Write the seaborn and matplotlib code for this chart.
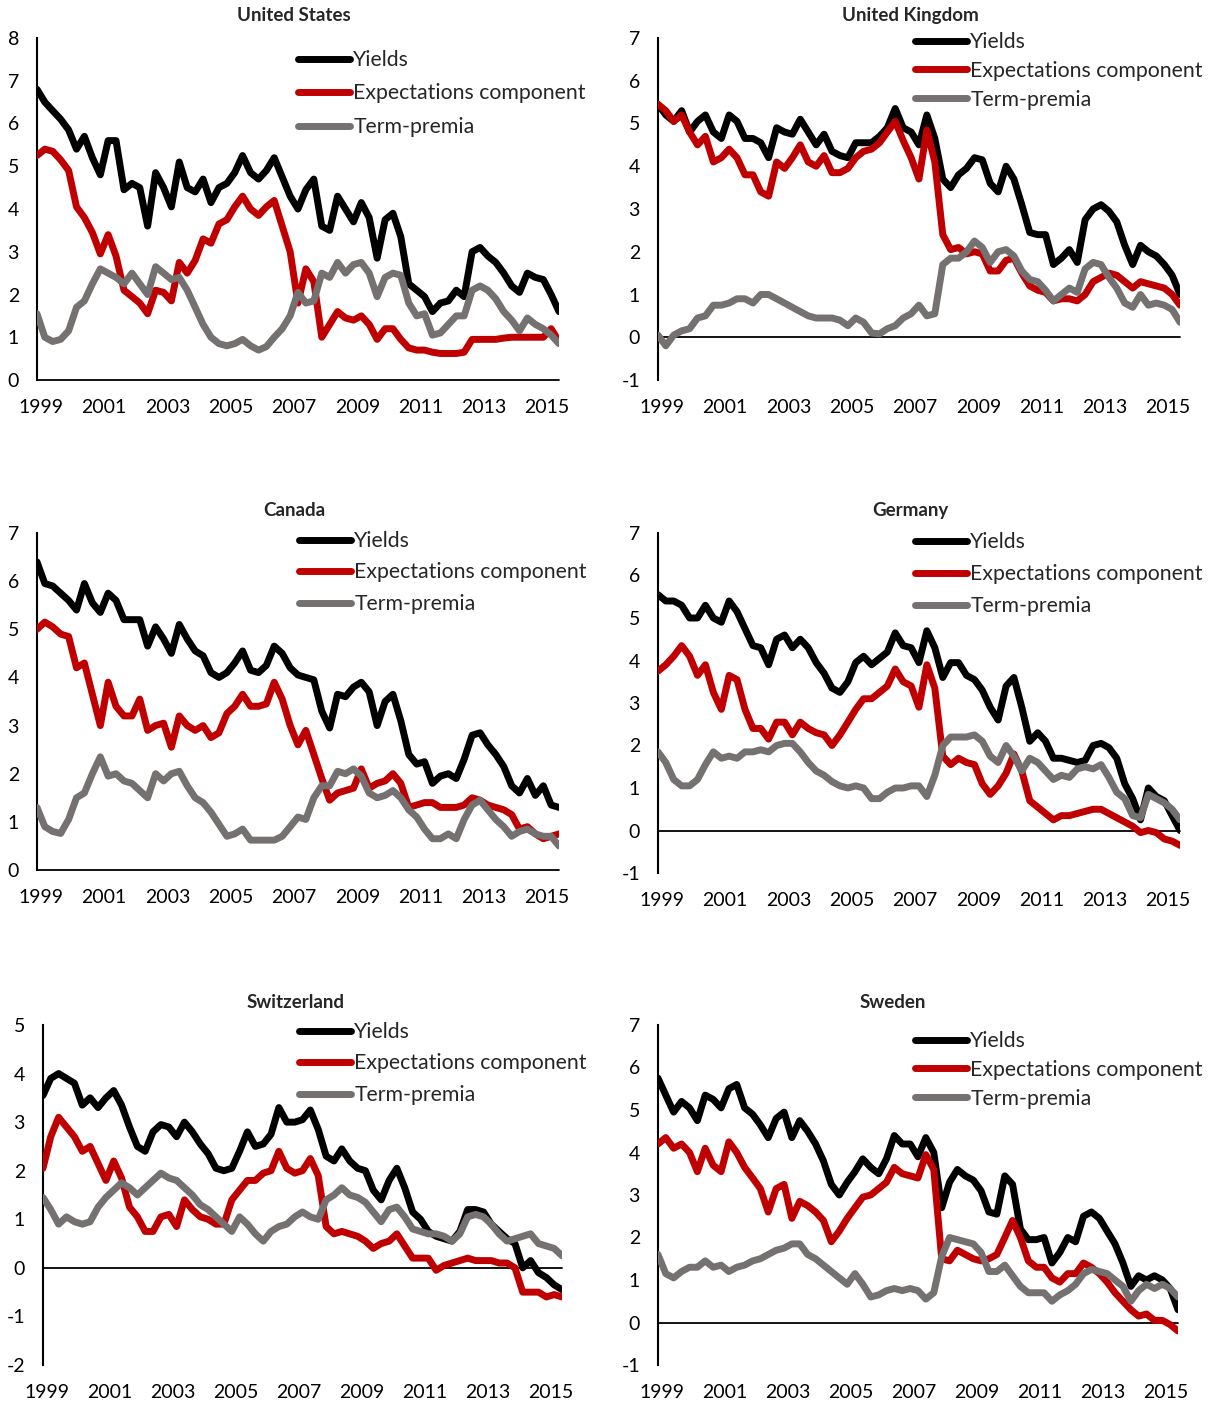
import matplotlib
matplotlib.use("Agg")
import matplotlib.pyplot as plt
import seaborn as sns
import pandas as pd

sns.set_style("white")
plt.rcParams['font.family'] = ['Lato', 'DejaVu Sans']
plt.rcParams['axes.unicode_minus'] = False

# Quarterly observations, 1999Q1 .. 2015Q3
dates = pd.date_range('1999-01-01', '2015-07-01', freq='QS')

# ---- United States ----
us_yields = [6.8, 6.5, 6.3, 6.1, 5.85, 5.4, 5.7, 5.2, 4.8, 5.6, 5.6, 4.45,
             4.6, 4.5, 3.6, 4.85, 4.5, 4.05, 5.1, 4.5, 4.4, 4.7, 4.15, 4.5,
             4.6, 4.85, 5.25, 4.85, 4.7, 4.9, 5.2, 4.75, 4.3, 4.0, 4.45, 4.7,
             3.6, 3.5, 4.3, 4.0, 3.7, 4.15, 3.8, 2.85, 3.75, 3.9, 3.35, 2.25,
             2.1, 1.95, 1.6, 1.8, 1.85, 2.1, 1.95, 3.0, 3.1, 2.9, 2.75, 2.5,
             2.2, 2.05, 2.5, 2.4, 2.35, 2.0, 1.6]
us_expect = [5.25, 5.4, 5.35, 5.15, 4.9, 4.05, 3.8, 3.45, 2.95, 3.4, 2.9, 2.1,
             1.95, 1.8, 1.55, 2.1, 2.05, 1.85, 2.75, 2.5, 2.8, 3.3, 3.2, 3.65,
             3.75, 4.05, 4.3, 4.0, 3.85, 4.05, 4.2, 3.6, 3.0, 1.8, 2.6, 2.3,
             1.0, 1.3, 1.6, 1.45, 1.4, 1.5, 1.3, 0.95, 1.2, 1.2, 0.95, 0.75,
             0.7, 0.7, 0.65, 0.62, 0.62, 0.62, 0.65, 0.95, 0.95, 0.95, 0.95, 0.98,
             1.0, 1.0, 1.0, 1.0, 1.0, 1.2, 0.9]
us_premia = [1.55, 1.0, 0.9, 0.95, 1.15, 1.7, 1.85, 2.25, 2.6, 2.5, 2.4, 2.25,
             2.5, 2.25, 2.0, 2.65, 2.5, 2.35, 2.4, 2.1, 1.7, 1.3, 1.0, 0.85,
             0.8, 0.85, 0.95, 0.8, 0.7, 0.78, 1.0, 1.2, 1.5, 2.05, 1.8, 1.85,
             2.5, 2.4, 2.75, 2.5, 2.7, 2.75, 2.5, 1.95, 2.4, 2.5, 2.45, 1.8,
             1.5, 1.55, 1.05, 1.1, 1.3, 1.5, 1.5, 2.1, 2.2, 2.1, 1.9, 1.6,
             1.4, 1.15, 1.45, 1.3, 1.2, 1.05, 0.85]

# ---- United Kingdom ----
uk_yields = [5.45, 5.2, 5.05, 5.3, 4.8, 5.05, 5.2, 4.8, 4.65, 5.2, 5.05, 4.65,
             4.65, 4.55, 4.2, 4.9, 4.8, 4.75, 5.1, 4.8, 4.5, 4.75, 4.35, 4.25,
             4.2, 4.55, 4.55, 4.55, 4.7, 4.9, 5.35, 4.9, 4.8, 4.5, 5.2, 4.65,
             3.7, 3.5, 3.8, 3.95, 4.2, 4.15, 3.6, 3.4, 4.0, 3.7, 3.1, 2.45,
             2.4, 2.4, 1.7, 1.85, 2.05, 1.75, 2.75, 3.0, 3.1, 2.95, 2.7, 2.15,
             1.7, 2.15, 2.0, 1.9, 1.7, 1.45, 1.0]
uk_expect = [5.45, 5.3, 5.05, 5.2, 4.8, 4.5, 4.7, 4.1, 4.2, 4.4, 4.2, 3.8,
             3.8, 3.4, 3.3, 4.1, 3.95, 4.2, 4.5, 4.1, 4.0, 4.25, 3.85, 3.85,
             3.95, 4.2, 4.35, 4.4, 4.55, 4.8, 5.05, 4.6, 4.2, 3.7, 4.85, 4.1,
             2.4, 2.05, 2.1, 1.95, 2.0, 1.95, 1.55, 1.55, 1.8, 1.85, 1.5, 1.2,
             1.1, 1.05, 0.85, 0.9, 0.9, 0.85, 1.0, 1.3, 1.4, 1.5, 1.45, 1.3,
             1.15, 1.3, 1.25, 1.2, 1.15, 1.0, 0.75]
uk_premia = [0.05, -0.2, 0.05, 0.15, 0.2, 0.45, 0.5, 0.75, 0.75, 0.8, 0.9, 0.9,
             0.8, 1.0, 1.0, 0.9, 0.8, 0.7, 0.6, 0.5, 0.45, 0.45, 0.45, 0.4,
             0.27, 0.45, 0.35, 0.1, 0.08, 0.2, 0.27, 0.45, 0.55, 0.75, 0.5, 0.55,
             1.7, 1.85, 1.85, 2.0, 2.25, 2.1, 1.75, 2.0, 2.05, 1.9, 1.55, 1.35,
             1.3, 1.1, 0.85, 1.0, 1.15, 1.05, 1.6, 1.75, 1.7, 1.4, 1.15, 0.8,
             0.7, 1.0, 0.75, 0.8, 0.75, 0.65, 0.35]

# ---- Canada ----
ca_yields = [6.4, 5.95, 5.9, 5.75, 5.6, 5.4, 5.95, 5.55, 5.35, 5.75, 5.6, 5.2,
             5.2, 5.2, 4.65, 5.05, 4.8, 4.5, 5.1, 4.8, 4.55, 4.45, 4.1, 4.0,
             4.1, 4.3, 4.55, 4.15, 4.1, 4.25, 4.65, 4.5, 4.2, 4.05, 4.0, 3.95,
             3.3, 2.95, 3.65, 3.6, 3.8, 3.9, 3.7, 3.0, 3.5, 3.65, 3.1, 2.4,
             2.2, 2.25, 1.8, 1.95, 2.0, 1.9, 2.3, 2.8, 2.85, 2.6, 2.4, 2.15,
             1.75, 1.6, 1.9, 1.55, 1.75, 1.35, 1.3]
ca_expect = [5.0, 5.15, 5.05, 4.9, 4.85, 4.2, 4.3, 3.65, 3.0, 3.9, 3.4, 3.2,
             3.2, 3.55, 2.9, 3.0, 3.05, 2.55, 3.2, 3.0, 2.9, 3.0, 2.75, 2.85,
             3.25, 3.4, 3.65, 3.4, 3.4, 3.45, 3.9, 3.55, 3.0, 2.6, 2.9, 2.4,
             1.9, 1.45, 1.6, 1.65, 1.7, 2.1, 1.7, 1.8, 1.85, 2.0, 1.8, 1.3,
             1.35, 1.4, 1.4, 1.3, 1.3, 1.3, 1.35, 1.5, 1.45, 1.35, 1.3, 1.25,
             1.15, 0.85, 0.9, 0.75, 0.65, 0.7, 0.75]
ca_premia = [1.3, 0.9, 0.8, 0.76, 1.05, 1.5, 1.6, 2.0, 2.35, 1.95, 2.0, 1.85,
             1.8, 1.65, 1.5, 2.0, 1.85, 2.0, 2.05, 1.75, 1.5, 1.4, 1.2, 0.95,
             0.7, 0.75, 0.85, 0.62, 0.62, 0.62, 0.62, 0.7, 0.9, 1.1, 1.05, 1.5,
             1.75, 1.75, 2.05, 2.0, 2.1, 1.95, 1.6, 1.5, 1.55, 1.65, 1.5, 1.25,
             1.1, 0.85, 0.65, 0.65, 0.75, 0.65, 1.05, 1.35, 1.45, 1.25, 1.05, 0.9,
             0.7, 0.8, 0.85, 0.75, 0.7, 0.7, 0.5]

# ---- Germany ----
de_yields = [5.55, 5.4, 5.4, 5.3, 5.0, 5.0, 5.3, 5.0, 4.9, 5.4, 5.15, 4.75,
             4.35, 4.3, 3.9, 4.5, 4.6, 4.3, 4.5, 4.3, 3.95, 3.7, 3.35, 3.25,
             3.5, 3.95, 4.1, 3.9, 4.05, 4.2, 4.65, 4.35, 4.3, 3.95, 4.7, 4.3,
             3.6, 3.95, 3.95, 3.65, 3.55, 3.3, 2.9, 2.6, 3.4, 3.6, 2.9, 2.1,
             2.3, 2.1, 1.7, 1.7, 1.65, 1.6, 1.65, 2.0, 2.05, 1.95, 1.7, 1.1,
             0.75, 0.25, 1.0, 0.8, 0.7, 0.35, 0.0]
de_expect = [3.75, 3.9, 4.1, 4.35, 4.1, 3.65, 3.9, 3.25, 2.85, 3.65, 3.55, 2.85,
             2.4, 2.4, 2.15, 2.55, 2.55, 2.25, 2.55, 2.4, 2.3, 2.25, 2.0, 2.25,
             2.55, 2.85, 3.1, 3.1, 3.25, 3.4, 3.8, 3.5, 3.4, 2.9, 3.9, 3.35,
             1.75, 1.55, 1.7, 1.6, 1.55, 1.1, 0.85, 1.05, 1.35, 1.8, 1.4, 0.7,
             0.55, 0.4, 0.25, 0.35, 0.35, 0.4, 0.45, 0.5, 0.5, 0.4, 0.3, 0.2,
             0.1, -0.05, 0.0, -0.05, -0.2, -0.25, -0.35]
de_premia = [1.85, 1.6, 1.2, 1.05, 1.05, 1.2, 1.55, 1.85, 1.7, 1.75, 1.7, 1.85,
             1.85, 1.9, 1.85, 2.0, 2.05, 2.05, 1.85, 1.6, 1.4, 1.3, 1.15, 1.05,
             1.0, 1.05, 1.0, 0.75, 0.75, 0.9, 1.0, 1.0, 1.05, 1.05, 0.8, 1.3,
             2.0, 2.2, 2.2, 2.2, 2.25, 2.1, 1.75, 1.6, 2.0, 1.75, 1.4, 1.7,
             1.6, 1.4, 1.2, 1.3, 1.25, 1.45, 1.5, 1.45, 1.55, 1.25, 0.9, 0.75,
             0.35, 0.3, 0.85, 0.75, 0.65, 0.5, 0.25]

# ---- Switzerland ----
ch_yields = [3.55, 3.9, 4.0, 3.9, 3.8, 3.35, 3.5, 3.3, 3.5, 3.65, 3.35, 2.9,
             2.5, 2.4, 2.8, 2.95, 2.9, 2.7, 3.0, 2.8, 2.55, 2.35, 2.05, 2.0,
             2.05, 2.4, 2.8, 2.5, 2.55, 2.75, 3.3, 3.0, 3.0, 3.05, 3.25, 2.85,
             2.3, 2.2, 2.45, 2.2, 2.05, 2.0, 1.6, 1.4, 1.8, 2.05, 1.65, 1.15,
             1.0, 0.75, 0.65, 0.6, 0.55, 0.75, 1.2, 1.2, 1.15, 0.9, 0.75, 0.6,
             0.5, 0.0, 0.15, -0.1, -0.2, -0.35, -0.45]
ch_expect = [2.05, 2.7, 3.1, 2.9, 2.7, 2.4, 2.5, 2.15, 1.8, 2.2, 1.85, 1.25,
             1.05, 0.75, 0.75, 1.05, 1.1, 0.85, 1.4, 1.2, 1.05, 1.0, 0.9, 0.9,
             1.4, 1.6, 1.8, 1.8, 1.95, 2.0, 2.4, 2.05, 1.95, 2.0, 2.25, 1.9,
             0.85, 0.7, 0.75, 0.7, 0.65, 0.55, 0.4, 0.5, 0.55, 0.7, 0.45, 0.2,
             0.2, 0.2, -0.05, 0.05, 0.1, 0.15, 0.2, 0.15, 0.15, 0.15, 0.1, 0.1,
             0.0, -0.5, -0.5, -0.5, -0.6, -0.55, -0.6]
ch_premia = [1.45, 1.2, 0.9, 1.05, 0.95, 0.9, 0.95, 1.25, 1.45, 1.6, 1.75, 1.65,
             1.5, 1.65, 1.8, 1.95, 1.85, 1.8, 1.65, 1.5, 1.3, 1.2, 1.05, 0.9,
             0.75, 1.05, 0.9, 0.7, 0.55, 0.75, 0.85, 0.9, 1.05, 1.15, 1.05, 1.0,
             1.4, 1.5, 1.65, 1.5, 1.45, 1.35, 1.15, 0.95, 1.2, 1.25, 1.05, 0.8,
             0.75, 0.7, 0.7, 0.65, 0.55, 0.7, 1.05, 1.1, 1.05, 0.9, 0.7, 0.55,
             0.6, 0.65, 0.7, 0.5, 0.45, 0.4, 0.25]

# ---- Sweden ----
se_yields = [5.75, 5.35, 4.95, 5.2, 5.05, 4.75, 5.35, 5.25, 5.05, 5.5, 5.6, 5.05,
             4.9, 4.65, 4.35, 4.8, 4.95, 4.35, 4.75, 4.5, 4.2, 3.8, 3.25, 3.0,
             3.3, 3.55, 3.85, 3.65, 3.5, 3.85, 4.4, 4.2, 4.2, 3.9, 4.35, 4.0,
             2.7, 3.3, 3.6, 3.45, 3.35, 3.1, 2.6, 2.55, 3.45, 3.25, 2.2, 1.95,
             1.95, 2.0, 1.4, 1.65, 2.0, 1.9, 2.5, 2.6, 2.45, 2.15, 1.85, 1.4,
             0.85, 1.1, 1.0, 1.1, 1.0, 0.8, 0.3]
se_expect = [4.2, 4.35, 4.1, 4.2, 4.0, 3.55, 4.1, 3.7, 3.55, 4.25, 4.0, 3.65,
             3.4, 3.15, 2.6, 3.15, 3.25, 2.45, 2.85, 2.75, 2.6, 2.4, 1.9, 2.15,
             2.45, 2.7, 2.95, 3.0, 3.15, 3.3, 3.65, 3.5, 3.45, 3.4, 3.95, 3.6,
             1.5, 1.45, 1.7, 1.6, 1.5, 1.45, 1.5, 1.6, 2.0, 2.4, 2.0, 1.45,
             1.3, 1.3, 1.05, 0.95, 1.15, 1.15, 1.4, 1.3, 1.15, 0.95, 0.7, 0.5,
             0.3, 0.15, 0.2, 0.05, 0.05, -0.05, -0.2]
se_premia = [1.6, 1.15, 1.05, 1.2, 1.3, 1.3, 1.45, 1.3, 1.35, 1.2, 1.3, 1.35,
             1.45, 1.5, 1.6, 1.7, 1.75, 1.85, 1.85, 1.6, 1.5, 1.35, 1.2, 1.05,
             0.9, 1.15, 0.9, 0.6, 0.65, 0.75, 0.8, 0.75, 0.8, 0.75, 0.55, 0.7,
             1.55, 2.0, 1.95, 1.9, 1.85, 1.65, 1.2, 1.2, 1.35, 1.1, 0.85, 0.7,
             0.7, 0.7, 0.5, 0.65, 0.75, 0.9, 1.15, 1.25, 1.2, 1.15, 1.0, 0.85,
             0.5, 0.75, 0.9, 0.8, 0.9, 0.8, 0.6]

series_names = ['Yields', 'Expectations component', 'Term-premia']
colors = ['#000000', '#C00000', '#767171']
tick_years = [1999, 2001, 2003, 2005, 2007, 2009, 2011, 2013, 2015]

W, H = 1213, 1403

# title, data, y-limits, axes rect in px (left, top, width, height),
# title x (axes fraction), legend anchor px (x, y), legend row spacing
panels = [
    ('United States', (us_yields, us_expect, us_premia), (0, 8),
     (37, 38, 522, 342), 0.492, (298, 50), 0.635),
    ('United Kingdom', (uk_yields, uk_expect, uk_premia), (-1, 7),
     (658, 38, 522, 342), 0.483, (915, 32), 0.42),
    ('Canada', (ca_yields, ca_expect, ca_premia), (0, 7),
     (37, 533, 522, 337), 0.492, (299, 531), 0.54),
    ('Germany', (de_yields, de_expect, de_premia), (-1, 7),
     (658, 533, 522, 340), 0.483, (915, 532), 0.565),
    ('Switzerland', (ch_yields, ch_expect, ch_premia), (-2, 5),
     (43, 1025, 519, 340), 0.486, (299, 1022), 0.54),
    ('Sweden', (se_yields, se_expect, se_premia), (-1, 7),
     (658, 1025, 520, 340), 0.452, (915, 1031), 0.42),
]

fig = plt.figure(figsize=(W / 100, H / 100), dpi=100)

for title, values, ylim, rect, title_x, leg_xy, leg_sp in panels:
    left, top, width, height = rect
    ax = fig.add_axes([left / W, 1 - (top + height) / H, width / W, height / H])

    for name, vals, col in zip(series_names, values, colors):
        sns.lineplot(x=dates, y=vals, ax=ax, color=col, linewidth=5,
                     label=name, legend=False,
                     solid_capstyle='round', solid_joinstyle='round', zorder=3)

    ax.axhline(0, color='black', linewidth=1.3, zorder=2, clip_on=False)

    ax.set_xlim(dates[0], dates[-1])
    ax.set_ylim(*ylim)
    ax.set_yticks(range(ylim[0], ylim[1] + 1))
    ax.set_yticklabels([str(v) for v in range(ylim[0], ylim[1] + 1)])
    ax.set_xticks([pd.Timestamp(y, 2, 15) for y in tick_years])
    ax.set_xticklabels([str(y) for y in tick_years])
    ax.tick_params(axis='both', length=0, labelsize=14, colors='#000000')
    ax.tick_params(axis='y', pad=13)
    ax.tick_params(axis='x', pad=13.5)
    ax.set_xlabel('')
    ax.set_ylabel('')

    for side in ['top', 'right', 'bottom']:
        ax.spines[side].set_visible(False)
    ax.spines['left'].set_color('black')
    ax.spines['left'].set_linewidth(1.5)

    ax.set_title(title, fontsize=13.5, fontweight='bold', x=title_x, pad=12)

    ax.legend(loc='upper left',
              bbox_to_anchor=(leg_xy[0] / W, 1 - leg_xy[1] / H),
              bbox_transform=fig.transFigure,
              frameon=False, fontsize=15.3, handlelength=2.45,
              handletextpad=0.15, labelspacing=leg_sp,
              borderpad=0, borderaxespad=0)

plt.savefig('out.png', dpi=100)
